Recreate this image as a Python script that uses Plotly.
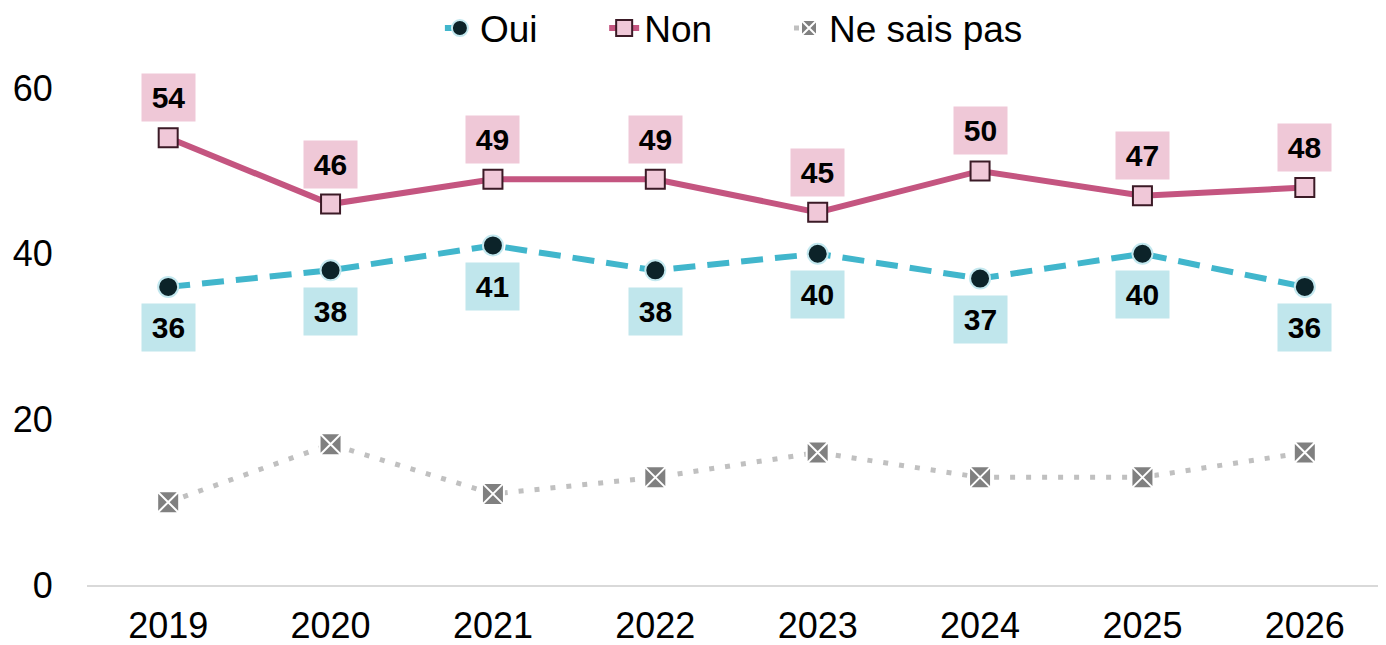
import plotly.graph_objects as go

years = ["2019", "2020", "2021", "2022", "2023", "2024", "2025", "2026"]
oui = [36, 38, 41, 38, 40, 37, 40, 36]
non = [54, 46, 49, 49, 45, 50, 47, 48]
nsp = [10, 17, 11, 13, 16, 13, 13, 16]
y_ticks = [0, 20, 40, 60]

FONT = "Liberation Sans, Arial, sans-serif"
NB = "\u00a0"

fig = go.Figure()
fig.add_trace(go.Scatter(
    x=years, y=oui, name="Oui" + NB * 6, mode="lines+markers",
    line=dict(color="#41b6cc", width=6, dash="22px,12px"),
    marker=dict(symbol="circle", size=20, color="#0c2329",
                line=dict(color="#c3e8ef", width=2)),
))
fig.add_trace(go.Scatter(
    x=years, y=non, name="Non" + NB * 7, mode="lines+markers",
    line=dict(color="#c45580", width=6),
    marker=dict(symbol="square", size=19, color="#f0c8d8",
                line=dict(color="#3b1a26", width=2)),
))
fig.add_trace(go.Scatter(
    x=years, y=nsp, name="Ne sais pas", mode="lines+markers",
    line=dict(color="#c0c0c0", width=5, dash="5px,11px"),
    marker=dict(symbol="square-x", size=22, color="#808080",
                line=dict(color="#ffffff", width=2)),
))

annotations = []
for i, v in enumerate(non):
    annotations.append(dict(
        x=i, y=v, xref="x", yref="y", text=f"<b>{v}</b>", showarrow=False,
        yshift=40, width=51, height=45, bgcolor="#efc8d7",
        font=dict(family=FONT, size=30, color="#000000"),
    ))
for i, v in enumerate(oui):
    annotations.append(dict(
        x=i, y=v, xref="x", yref="y", text=f"<b>{v}</b>", showarrow=False,
        yshift=-41, width=51, height=45, bgcolor="#c0e6ec",
        font=dict(family=FONT, size=30, color="#000000"),
    ))

fig.update_layout(
    width=1378, height=637,
    margin=dict(l=79, r=0, t=47, b=60, autoexpand=False),
    paper_bgcolor="white", plot_bgcolor="white",
    font=dict(family=FONT, size=36, color="#000000"),
    showlegend=True,
    legend=dict(orientation="h", x=0.498, xanchor="center", y=1.05, yanchor="middle",
                font=dict(family=FONT, size=37), tracegroupgap=0),
    annotations=annotations,
    xaxis=dict(type="category", range=[-0.5, 7.5], showgrid=False, zeroline=False,
               automargin=False,
               showline=True, linecolor="#d9d9d9", linewidth=2,
               ticks="outside", ticklen=8, tickcolor="rgba(0,0,0,0)",
               tickfont=dict(family=FONT, size=36)),
    yaxis=dict(range=[0, 64], tickvals=y_ticks, showgrid=False, zeroline=False,
               automargin=False,
               showline=False, ticks="outside", ticklen=26, tickcolor="rgba(0,0,0,0)",
               tickfont=dict(family=FONT, size=36)),
)

fig.write_html("out.html")
